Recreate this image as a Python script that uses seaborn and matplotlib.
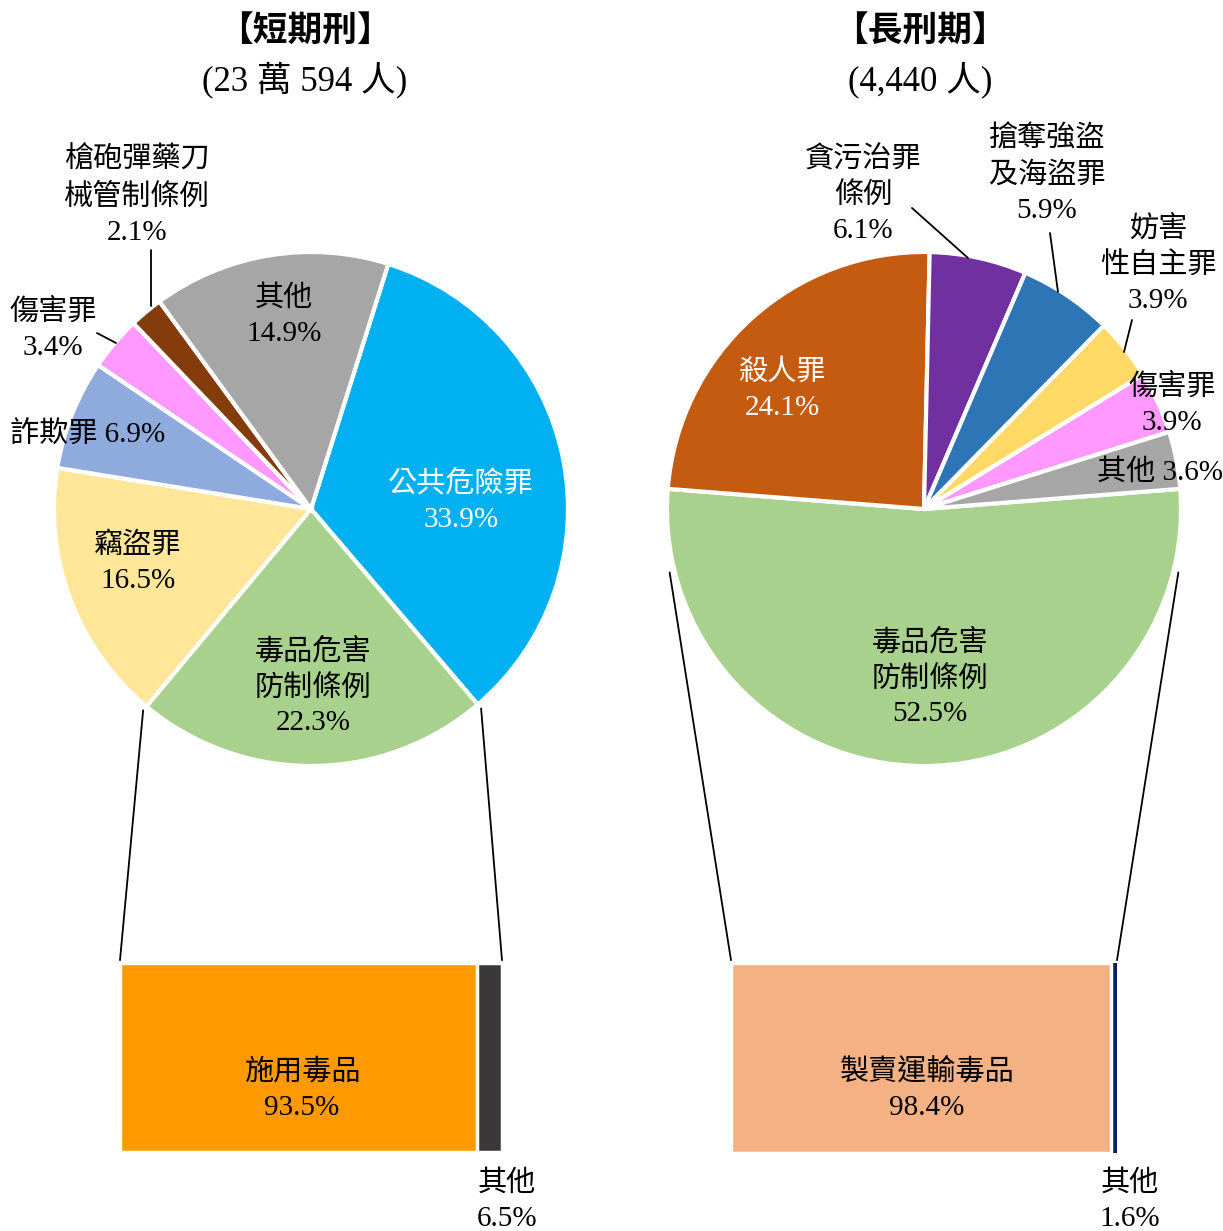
import numpy as np
import matplotlib
matplotlib.use("Agg")
import matplotlib.pyplot as plt
import seaborn as sns
from matplotlib.patches import ConnectionPatch

sns.set_theme(style="white")
plt.rcParams['font.family'] = ['Liberation Serif', 'Noto Sans CJK TC']

# ---- data ----
short_title = "【短期刑】"
short_total = "(23 萬 594 人)"
short_labels = ["公共危險罪", "毒品危害\n防制條例", "竊盜罪", "詐欺罪", "傷害罪", "槍砲彈藥刀\n械管制條例", "其他"]
short_pct = [33.9, 22.3, 16.5, 6.9, 3.4, 2.1, 14.9]
short_colors = ["#00B0F0", "#A9D18E", "#FFE699", "#8FAADC", "#FF99FF", "#843C0C", "#A6A6A6"]

long_title = "【長刑期】"
long_total = "(4,440 人)"
long_labels = ["毒品危害\n防制條例", "殺人罪", "貪污治罪\n條例", "搶奪強盜\n及海盜罪", "妨害\n性自主罪", "傷害罪", "其他"]
long_pct = [52.5, 24.1, 6.1, 5.9, 3.9, 3.9, 3.6]
long_colors = ["#A9D18E", "#C55A11", "#7030A0", "#2E75B6", "#FFD966", "#FF99FF", "#A6A6A6"]

short_drug_labels = ["施用毒品", "其他"]
short_drug_pct = [93.5, 6.5]
short_drug_colors = ["#FF9900", "#3A3838"]

long_drug_labels = ["製賣運輸毒品", "其他"]
long_drug_pct = [98.4, 1.6]
long_drug_colors = ["#F4B183", "#002060"]

# ---- layout (pixels) ----
W, H = 1223, 1231
fig = plt.figure(figsize=(W / 100, H / 100), dpi=100)


def px_axes(x0, y0, x1, y1):
    return fig.add_axes([x0 / W, 1 - y1 / H, (x1 - x0) / W, (y1 - y0) / H])


R = 257
pie_short = px_axes(311 - R, 509 - R, 311 + R, 509 + R)
pie_long = px_axes(924 - R, 509 - R, 924 + R, 509 + R)
bar_short = px_axes(120, 963, 502, 1152)
bar_long = px_axes(731, 963, 1117, 1153)

bg = fig.add_axes([0, 0, 1, 1], zorder=10)
bg.set_xlim(0, W)
bg.set_ylim(H, 0)
bg.axis("off")

wp = dict(edgecolor="white", linewidth=3)
w_short, _ = pie_short.pie(short_pct, colors=short_colors, startangle=72.5,
                           counterclock=False, wedgeprops=wp)
w_long, _ = pie_long.pie(long_pct, colors=long_colors, startangle=4.5,
                         counterclock=False, wedgeprops=wp)
for ax in (pie_short, pie_long):
    ax.set_xlim(-1, 1)
    ax.set_ylim(-1, 1)
    ax.axis("off")


def stacked_bar(ax, pct, colors):
    cum = np.cumsum(pct)[::-1]
    for val, col in zip(cum, colors[::-1]):
        sns.barplot(x=[val], y=[0], orient="h", color=col, width=1.0,
                    edgecolor="white", linewidth=2.5, saturation=1, ax=ax)
    ax.set_xlim(0, 100)
    ax.set_ylim(0.5, -0.5)
    ax.axis("off")


stacked_bar(bar_short, short_drug_pct, short_drug_colors)
stacked_bar(bar_long, long_drug_pct, long_drug_colors)
# navy sliver keeps its own edge
bar_long.patches[0].set_edgecolor(long_drug_colors[1])
bar_long.patches[0].set_linewidth(1.5)

# connector lines pie -> bar
drug_w = w_short[1]
short_angles = [drug_w.theta1, drug_w.theta2]
long_angles = [-166, -14]
for pax, bax, angs in [(pie_short, bar_short, short_angles), (pie_long, bar_long, long_angles)]:
    for a, bx in zip(angs, [0, 1]):
        t = np.deg2rad(a)
        con = ConnectionPatch(xyA=(1.02 * np.cos(t), 1.02 * np.sin(t)), coordsA=pax.transData,
                              xyB=(bx, 1.015), coordsB=bax.transAxes, color="black", lw=1.3)
        fig.add_artist(con)

# ---- text ----
fs = 21
ls = 1.45


def put(x, y, s, color="black", size=fs, **kw):
    bg.text(x, y, s, ha="center", va="center", fontsize=size, color=color,
            linespacing=ls, **kw)


put(305, 33, short_title, size=25, fontweight="bold")
put(305, 80, short_total, size=25)
put(920, 33, long_title, size=25, fontweight="bold")
put(920, 80, long_total, size=25)

short_pos = [(461, 502), (313, 687), (138, 563), (88, 435), (53, 330), (137, 196), (284, 316)]
short_txtcol = ["white"] + ["black"] * 6
for lab, p, (x, y), c in zip(short_labels, short_pct, short_pos, short_txtcol):
    sep = " " if lab == "詐欺罪" else "\n"
    put(x, y, f"{lab}{sep}{p}%", color=c)

long_pos = [(930, 678), (782, 390), (863, 195), (1047, 175), (1158, 265), (1172, 405), (1160, 472)]
long_txtcol = ["black", "white"] + ["black"] * 5
for lab, p, (x, y), c in zip(long_labels, long_pct, long_pos, long_txtcol):
    sep = " " if (lab == "其他") else "\n"
    put(x, y, f"{lab}{sep}{p}%", color=c)

bar_pos = [(302, 1090), (507, 1201), (927, 1090), (1130, 1201)]
for (lab, p), (x, y) in zip(list(zip(short_drug_labels, short_drug_pct)) + list(zip(long_drug_labels, long_drug_pct)), bar_pos):
    put(x, y, f"{lab}\n{p}%")

leaders = [((97, 333), (116, 343)), ((151, 250), (151, 306)),
           ((912, 208), (968, 258)), ((1050, 233), (1058, 292)), ((1132, 320), (1124, 352))]
for (x0, y0), (x1, y1) in leaders:
    bg.plot([x0, x1], [y0, y1], color="black", lw=1.3)

fig.savefig("out.png", dpi=100, facecolor="white")
